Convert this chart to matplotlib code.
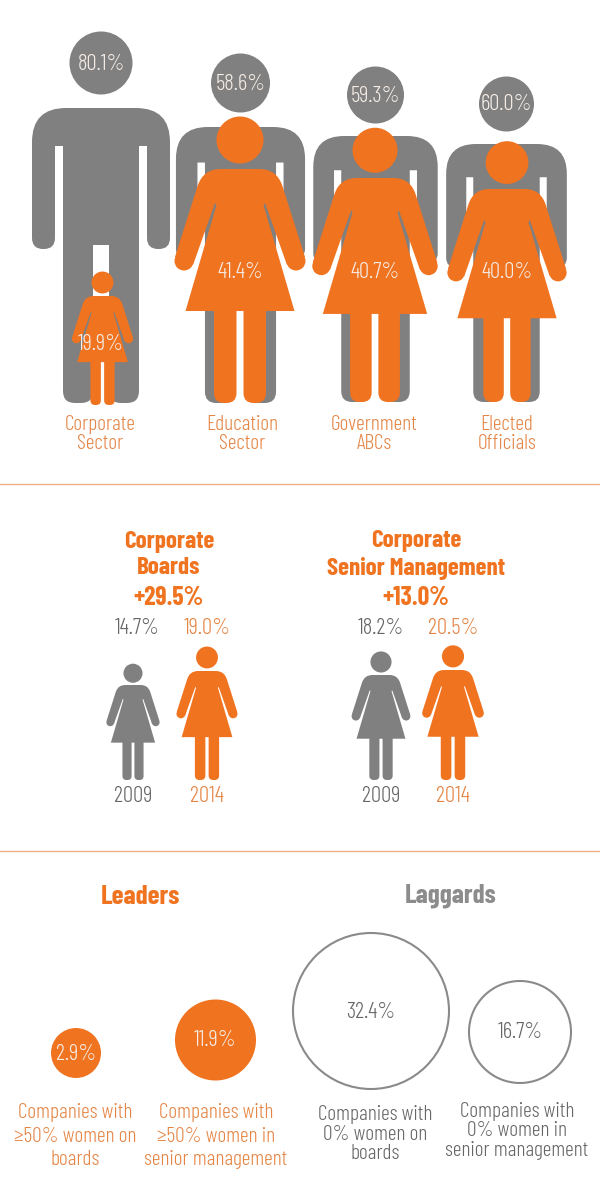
import matplotlib
matplotlib.use('Agg')
import matplotlib.pyplot as plt
import numpy as np
from matplotlib.patches import Circle, PathPatch
from matplotlib.path import Path
from matplotlib import font_manager as fm

ORANGE = '#F07320'
ORANGE_TXT = '#E58545'
GREY = '#808080'
GREY_TXT = '#666666'
WHITE_TXT = '#F6EDE6'

# top section
sectors = ['Corporate\nSector', 'Education\nSector', 'Government\nABCs', 'Elected\nOfficials']
men_pct = [80.1, 58.6, 59.3, 60.0]
women_pct = [19.9, 41.4, 40.7, 40.0]

# middle section
groups = ['Corporate\nBoards', 'Corporate\nSenior Management']
group_change = [29.5, 13.0]
years = ['2009', '2014']
pct_2009 = [14.7, 18.2]
pct_2014 = [19.0, 20.5]

# bottom section
leaders_pct = [2.9, 11.9]
laggards_pct = [32.4, 16.7]
leaders_lbl = ['Companies with\n≥50% women on\nboards', 'Companies with\n≥50% women in\nsenior management']
laggards_lbl = ['Companies with\n0% women on\nboards', 'Companies with\n0% women in\nsenior management']

# layout in pixels
man_x = [101, 240.5, 375.5, 506.5]
man_top = [108, 127, 136, 144]
man_bottom = [403, 403, 402, 402]
man_head_y = [63, 83, 95, 104]
man_head_r = [31.5, 29.5, 28.5, 27.5]
woman_x = [102.5, 240, 375, 507]
woman_top = [296, 169, 178, 189]
woman_bottom = [405, 403, 402, 402]
woman_lbl_y = [344, 272, 272, 272]
sector_x = [100, 242, 374, 507]
mid_x = [[133, 207], [381, 453]]
mid_top = [[685, 671], [675, 670]]
mid_bottom = 780
head_x = [169, 416]
lead_xy = [(76, 1053), (215.5, 1040)]
lead_r = [25, 40.5]
lag_xy = [(371, 1011), (520, 1032)]
lag_r = [78, 51]
lead_lbl_x = [75, 216]
lag_lbl_x = [375, 517]
lag_lbl_y = [1133, 1130]

names = {f.name for f in fm.fontManager.ttflist}
narrow = [n for n in ['Barlow Condensed', 'Roboto Condensed', 'Archivo Narrow', 'Liberation Sans'] if n in names]
plt.rcParams['font.family'] = narrow + ['DejaVu Sans']


def rounded(points):
    # closed polygon, each point is x, y, corner radius
    verts, codes = [], []
    n = len(points)
    for i in range(n):
        p = np.array(points[i][:2], float)
        r = points[i][2]
        a = np.array(points[i - 1][:2], float)
        b = np.array(points[(i + 1) % n][:2], float)
        if r == 0:
            verts.append(p)
            codes.append(Path.LINETO)
            continue
        p1 = p + (a - p) / np.linalg.norm(a - p) * r
        p2 = p + (b - p) / np.linalg.norm(b - p) * r
        verts += [p1, p, p2]
        codes += [Path.LINETO, Path.CURVE3, Path.CURVE3]
    codes[0] = Path.MOVETO
    verts.append(verts[0])
    codes.append(Path.CLOSEPOLY)
    return Path(verts, codes)


def draw_man(ax, cx, top, bottom, color):
    s = (bottom - top) / 295
    half = [(69, 0, 34), (69, 141, 11), (46, 141, 11), (46, 38, 0), (38, 38, 0),
            (38, 295, 12), (8, 295, 12), (8, 137, 0)]
    left = [(-x, y, r) for x, y, r in half[::-1]]
    pts = [(cx + x * s, top + y * s, r * s) for x, y, r in half + left]
    ax.add_patch(PathPatch(rounded(pts), fc=color, ec='none', zorder=2))


def draw_woman(ax, cx, top, bottom, color, z=3):
    s = (bottom - top) / 234
    ax.add_patch(Circle((cx, top - 29 * s), 23.5 * s, fc=color, ec='none', zorder=z))
    side = [(37, 0, 18), (65, 88, 0), (47, 96, 0), (25, 34, 0), (23.5, 36, 0), (54.5, 142, 0)]
    pts = side + [(-x, y, r) for x, y, r in side[::-1]]
    pts = [(cx + x * s, top + y * s, r * s) for x, y, r in pts]
    ax.add_patch(PathPatch(rounded(pts), fc=color, ec='none', lw=0, zorder=z))
    for sign in (-1, 1):
        ax.add_patch(Circle((cx + sign * 56 * s, top + 92 * s), 9.5 * s, fc=color, ec='none', zorder=z))
        leg = [(3.5, 140), (26, 140), (26, 234), (3.5, 234)]
        rad = [0, 0, 10, 10]
        leg = [(cx + sign * x * s, top + y * s, r * s) for (x, y), r in zip(leg, rad)]
        ax.add_patch(PathPatch(rounded(leg), fc=color, ec='none', zorder=z))


fig = plt.figure(figsize=(6, 12), dpi=100)
ax = fig.add_axes([0, 0, 1, 1])
ax.set_xlim(0, 600)
ax.set_ylim(1200, 0)
ax.axis('off')


def label(x, y, s, color, size=15.5, weight=300, spacing=1.05):
    ax.text(x, y + 1, s, color=color, fontsize=size, fontweight=weight, ha='center', va='center',
            zorder=5, linespacing=spacing)


PCT = 16.5

for i in range(4):
    ax.add_patch(Circle((man_x[i], man_head_y[i]), man_head_r[i], fc=GREY, ec='none', zorder=2))
    draw_man(ax, man_x[i], man_top[i], man_bottom[i], GREY)
    draw_woman(ax, woman_x[i], woman_top[i], woman_bottom[i], ORANGE)
    label(man_x[i], man_head_y[i], f'{men_pct[i]:.1f}%', WHITE_TXT, size=PCT)
    label(woman_x[i] - (1.5 if i == 0 else 0), woman_lbl_y[i], f'{women_pct[i]:.1f}%', WHITE_TXT, size=PCT)
    label(sector_x[i], 433, sectors[i], ORANGE_TXT)

ax.axhline(484, color='#EDAE85', lw=1)
ax.axhline(851, color='#EDAE85', lw=1)

for i in range(2):
    label(head_x[i], 554, groups[i], ORANGE, size=18, weight='bold', spacing=1.25)
    label(head_x[i], 597, f'+{group_change[i]:.1f}%', ORANGE, size=18.5, weight='bold')
    draw_woman(ax, mid_x[i][0], mid_top[i][0], mid_bottom, GREY)
    draw_woman(ax, mid_x[i][1], mid_top[i][1], mid_bottom, ORANGE)
    label(mid_x[i][0] + (4 if i == 0 else 0), 627, f'{pct_2009[i]:.1f}%', GREY_TXT, size=PCT)
    label(mid_x[i][1], 627, f'{pct_2014[i]:.1f}%', ORANGE_TXT, size=PCT)
    label(mid_x[i][0], 796, years[0], GREY_TXT, size=PCT)
    label(mid_x[i][1], 796, years[1], ORANGE_TXT, size=PCT)

label(140, 896, 'Leaders', ORANGE, size=19.5, weight='bold')
label(451, 895, 'Laggards', '#8C8C8C', size=19.5, weight='bold')

for i in range(2):
    ax.add_patch(Circle(lead_xy[i], lead_r[i], fc=ORANGE, ec='none', zorder=2))
    label(lead_xy[i][0], lead_xy[i][1], f'{leaders_pct[i]:.1f}%', WHITE_TXT, size=PCT)
    label(lead_lbl_x[i], 1135, leaders_lbl[i], ORANGE_TXT, spacing=1.27)
    ax.add_patch(Circle(lag_xy[i], lag_r[i], fc='white', ec='#8A8A8A', lw=1.5, zorder=2))
    label(lag_xy[i][0], lag_xy[i][1], f'{laggards_pct[i]:.1f}%', GREY_TXT, size=PCT)
    label(lag_lbl_x[i], lag_lbl_y[i], laggards_lbl[i], GREY_TXT, spacing=1.05)

fig.savefig('out.png', dpi=100, facecolor='white')
